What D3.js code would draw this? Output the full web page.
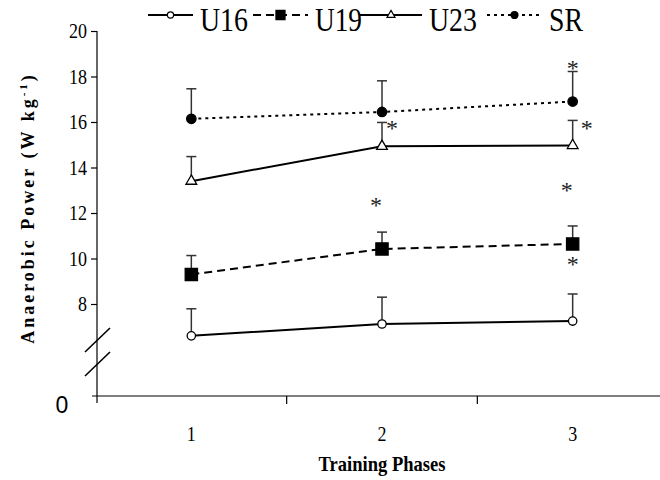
<!DOCTYPE html>
<html>
<head>
<meta charset="utf-8">
<script src="https://cdn.jsdelivr.net/npm/d3@7"></script>
<style>
  body { margin: 0; background: #fff; }
  svg { display: block; }
  svg text { font-family: "Liberation Serif", "Times New Roman", Times, serif; }
  svg text.sans { font-family: "Liberation Sans", Arial, sans-serif; }
</style>
</head>
<body>
<svg id="chart"></svg>
<script>
// values
const phases = ["1", "2", "3"];
const seriesNames = ["U16", "U19", "U23", "SR"];
const u16Mean = [6.6, 7.12, 7.25];
const u16Sd = [1.19, 1.18, 1.19];
const u19Mean = [9.3, 10.42, 10.64];
const u19Sd = [0.83, 0.74, 0.79];
const u23Mean = [13.4, 14.93, 14.97];
const u23Sd = [1.08, 1.05, 1.1];
const srMean = [16.14, 16.44, 16.9];
const srSd = [1.32, 1.37, 1.32];
const yTicks = [8, 10, 12, 14, 16, 18, 20];
// significance stars: phase, value
const starPhase = ["3", "2", "3", "2", "3", "3"];
const starValue = [18.5, 15.87, 15.87, 12.48, 13.14, 9.9];

const width = 660, height = 480;
const margin = { top: 31, left: 97, bottom: 84 };
const svg = d3.select("#chart").attr("width", width).attr("height", height);

const x = d3.scaleBand().domain(phases).range([96, 668]);
// broken axis: 0 at the bottom, 6..20 linear above the break
const y = d3.scaleLinear().domain([0, 6, 20]).range([396, 349.5, 31]);

const series = [
  { name: "U16", mean: u16Mean, sd: u16Sd, dash: null, symbol: d3.symbolCircle, size: 55, fill: "#fff" },
  { name: "U19", mean: u19Mean, sd: u19Sd, dash: "8,5", symbol: d3.symbolSquare, size: 150, fill: "#000" },
  { name: "U23", mean: u23Mean, sd: u23Sd, dash: null, symbol: d3.symbolTriangle, size: 50, fill: "#fff" },
  { name: "SR", mean: srMean, sd: srSd, dash: "3,4", symbol: d3.symbolCircle, size: 70, fill: "#000" }
];

// y axis
const yAxis = svg.append("g")
  .attr("transform", `translate(${margin.left},0)`)
  .call(d3.axisLeft(y).tickValues(yTicks).tickSize(6).tickPadding(4).tickSizeOuter(0));
yAxis.attr("font-family", null);
yAxis.select(".domain").remove();
yAxis.append("line")
  .attr("x1", 0).attr("x2", 0)
  .attr("y1", y(20)).attr("y2", y(0) + 7)
  .attr("stroke", "#000").attr("stroke-width", 1.2);
yAxis.selectAll(".tick line").attr("stroke-width", 1.2);
yAxis.selectAll(".tick text")
  .style("font-size", "21px").attr("fill", "#000")
  .attr("textLength", d => String(d).length * 9).attr("lengthAdjust", "spacingAndGlyphs");

// zero label
svg.append("text")
  .attr("class", "sans")
  .attr("x", 62).attr("y", y(0) + 17)
  .attr("text-anchor", "middle")
  .style("font-size", "23px")
  .text("0");

// axis break marks
[[352, 328], [376, 352]].forEach(([a, b]) => {
  svg.append("line")
    .attr("x1", 85).attr("y1", a).attr("x2", 110).attr("y2", b)
    .attr("stroke", "#000").attr("stroke-width", 1.6);
});

// x axis
const xAxis = svg.append("g")
  .attr("transform", `translate(0,${y(0)})`)
  .call(d3.axisBottom(x).tickSize(0).tickPadding(30));
xAxis.attr("font-family", null);
xAxis.select(".domain").remove();
xAxis.append("line")
  .attr("x1", 92).attr("x2", 668)
  .attr("stroke", "#000").attr("stroke-width", 1.2);
xAxis.selectAll(".tick text")
  .style("font-size", "21px").attr("fill", "#000")
  .attr("textLength", 9).attr("lengthAdjust", "spacingAndGlyphs");
xAxis.selectAll(".bound")
  .data(phases.slice(1))
  .join("line")
  .attr("class", "bound")
  .attr("x1", d => x(d)).attr("x2", d => x(d))
  .attr("y1", 0).attr("y2", 8)
  .attr("stroke", "#000").attr("stroke-width", 1.2);

// axis titles
svg.append("text")
  .attr("x", 382).attr("y", 471)
  .attr("text-anchor", "middle")
  .style("font-size", "21px").style("font-weight", "bold")
  .attr("textLength", 127).attr("lengthAdjust", "spacingAndGlyphs")
  .text("Training Phases");

const yLab = svg.append("text")
  .attr("transform", "translate(34,208) rotate(-90)")
  .attr("text-anchor", "middle")
  .style("font-size", "18px").style("font-weight", "bold")
  .style("letter-spacing", "3px");
yLab.append("tspan").text("Anaerobic Power (W kg");
yLab.append("tspan").attr("dy", -7).style("font-size", "11px").text("-1");
yLab.append("tspan").attr("dy", 7).text(")");

const cx = d => x(d) + x.bandwidth() / 2;

// error bars (upper only)
series.forEach(s => {
  const g = svg.append("g").attr("stroke", "#333").attr("stroke-width", 1.5);
  phases.forEach((p, i) => {
    const top = y(s.mean[i] + s.sd[i]);
    g.append("line").attr("x1", cx(p)).attr("x2", cx(p)).attr("y1", y(s.mean[i])).attr("y2", top);
    g.append("line").attr("x1", cx(p) - 5).attr("x2", cx(p) + 5).attr("y1", top).attr("y2", top);
  });
});

// lines
const line = d3.line().x(d => cx(d.p)).y(d => y(d.v));
series.forEach(s => {
  svg.append("path")
    .datum(phases.map((p, i) => ({ p, v: s.mean[i] })))
    .attr("d", line)
    .attr("fill", "none")
    .attr("stroke", "#000")
    .attr("stroke-width", 2)
    .attr("stroke-dasharray", s.dash);
});

// markers
series.forEach(s => {
  svg.append("g").selectAll("path")
    .data(phases.map((p, i) => ({ p, v: s.mean[i] })))
    .join("path")
    .attr("transform", d => `translate(${cx(d.p)},${y(d.v)})`)
    .attr("d", d3.symbol(s.symbol, s.size))
    .attr("fill", s.fill)
    .attr("stroke", "#000")
    .attr("stroke-width", 1.3);
});

// stars
const starDx = [0, 10, 14, -6, -6, 0];
svg.append("g").selectAll("text")
  .data(starPhase.map((p, i) => ({ p, v: starValue[i], dx: starDx[i] })))
  .join("text")
  .attr("x", d => cx(d.p) + d.dx)
  .attr("y", d => y(d.v) + 11)
  .attr("text-anchor", "middle")
  .style("font-size", "24px")
  .attr("fill", "#222")
  .text("*");

// legend
const legendX = [148, 253, 360, 487];
const legendW = [45, 55, 62, 55];
const legendTextW = [48, 47, 48, 34];
const lg = svg.append("g");
series.forEach((s, i) => {
  const x0 = legendX[i], x1 = x0 + legendW[i];
  lg.append("line")
    .attr("x1", x0).attr("x2", x1).attr("y1", 15).attr("y2", 15)
    .attr("stroke", "#000").attr("stroke-width", 1.8)
    .attr("stroke-dasharray", s.dash);
  lg.append("path")
    .attr("transform", `translate(${(x0 + x1) / 2},15)`)
    .attr("d", d3.symbol(s.symbol, s.size * 0.55))
    .attr("fill", s.fill).attr("stroke", "#000").attr("stroke-width", 1.2);
  lg.append("text")
    .attr("x", x1 + 7).attr("y", 31)
    .style("font-size", "33px")
    .attr("textLength", legendTextW[i]).attr("lengthAdjust", "spacingAndGlyphs")
    .text(seriesNames[i]);
});
</script>
</body>
</html>
